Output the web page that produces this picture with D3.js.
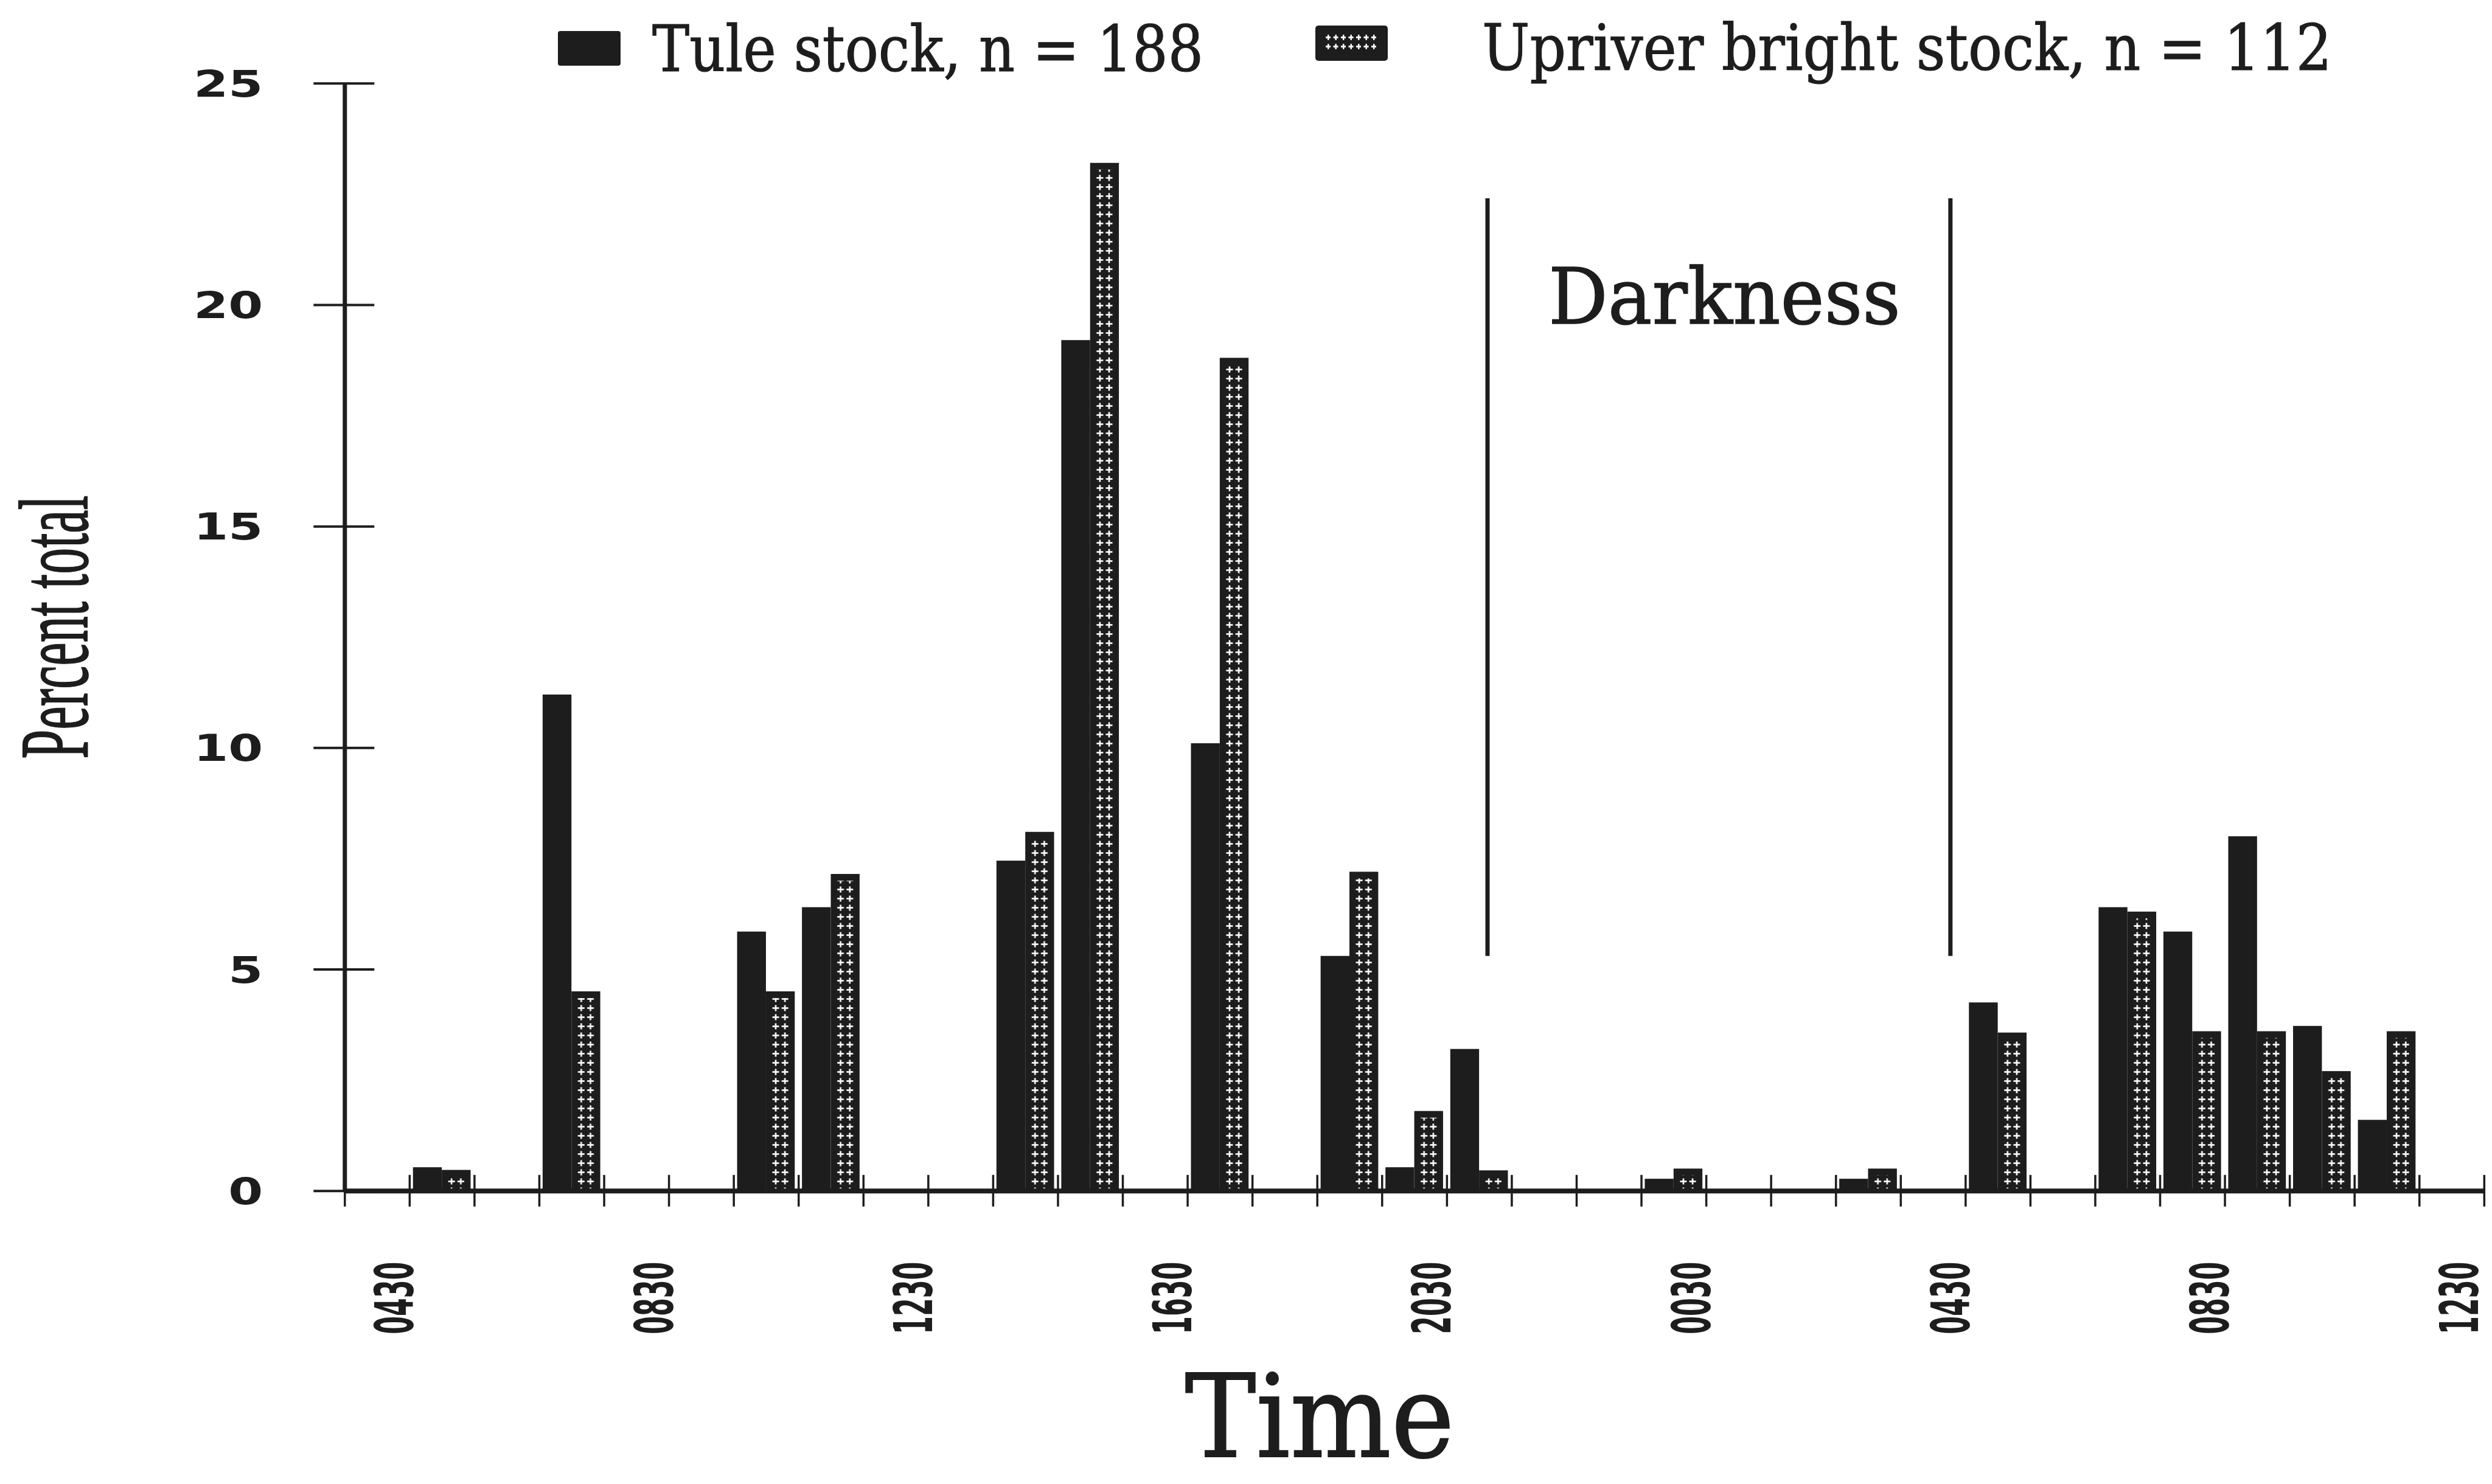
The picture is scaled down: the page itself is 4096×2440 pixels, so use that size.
<!DOCTYPE html>
<html>
<head>
<meta charset="utf-8">
<script src="https://cdn.jsdelivr.net/npm/d3@7"></script>
<style>
  html, body { margin: 0; padding: 0; background: #ffffff; }
  svg { display: block; }
</style>
</head>
<body>
<svg id="chart" width="4096" height="2440"></svg>
<script>
// Hour marks along the time axis: 0330 on day one through 1230 on day two
const tickTimes = ["0330","0430","0530","0630","0730","0830","0930","1030","1130","1230",
  "1330","1430","1530","1630","1730","1830","1930","2030","2130","2230","2330","0030",
  "0130","0230","0330","0430","0530","0630","0730","0830","0930","1030","1130","1230"];
// Tick positions that carry a printed time label
const labelledTicks = [1, 5, 9, 13, 17, 21, 25, 29, 33];

// Percent of total catch in each hourly bin (bin i runs from tickTimes[i] to tickTimes[i+1])
const tuleValues = [0, 0.53, 0, 11.2, 0, 0, 5.85, 6.4, 0, 0, 7.45, 19.2, 0, 10.1, 0, 5.3,
  0.53, 3.2, 0, 0, 0.27, 0, 0, 0.27, 0, 4.25, 0, 6.4, 5.85, 8.0, 3.72, 1.6, 0];
const brightValues = [0, 0.47, 0, 4.5, 0, 0, 4.5, 7.15, 0, 0, 8.1, 23.2, 0, 18.8, 0, 7.2,
  1.8, 0.46, 0, 0, 0.5, 0, 0, 0.5, 0, 3.57, 0, 6.3, 3.6, 3.6, 2.7, 3.6, 0];

const seriesKeys = ["tule", "bright"];
const seriesLabels = ["Tule stock, n = 188", "Upriver bright stock, n = 112"];
const yTickValues = [0, 5, 10, 15, 20, 25];

// Sunset / sunrise boundaries (hours after 0330) and the span of the marker lines (percent)
const darknessHours = [17.63, 24.77];
const darknessSpan = [5.3, 22.4];

const W = 4096, H = 2440;
const ink = "#1d1d1d";
const svg = d3.select("#chart");

const x = d3.scaleLinear().domain([0, tickTimes.length - 1]).range([566.3, 4082.8]);
const y = d3.scaleLinear().domain([0, 25]).range([1957.8, 136.7]);
const binWidth = x(1) - x(0);
const inner = d3.scaleBand().domain(seriesKeys).range([0, binWidth])
  .paddingInner(0).paddingOuter(0.125);
const bw = inner.bandwidth();

// Fill used for the upriver bright bars: dark ground with small white crosses
const sideInset = 8.5, topInset = 11;
const tileW = (bw - 2 * sideInset) / 2, tileH = 15;
const defs = svg.append("defs");
const pat = defs.append("pattern")
  .attr("id", "brightFill")
  .attr("patternUnits", "userSpaceOnUse")
  .attr("x", sideInset).attr("y", 0)
  .attr("width", tileW).attr("height", tileH);
pat.append("rect").attr("width", tileW).attr("height", tileH).attr("fill", ink);
pat.append("rect").attr("x", tileW * 0.14).attr("y", 6.2)
  .attr("width", tileW * 0.72).attr("height", 2.6).attr("fill", "#ffffff");
pat.append("rect").attr("x", tileW / 2 - 1.3).attr("y", 2.5)
  .attr("width", 2.6).attr("height", 10).attr("fill", "#ffffff");

// Bars
const bins = tuleValues.map((t, i) => ({ i, tule: t, bright: brightValues[i] }));
const barLayer = svg.append("g");

barLayer.selectAll("rect.tule")
  .data(bins.filter(d => d.tule > 0))
  .join("rect")
  .attr("class", "tule")
  .attr("x", d => x(d.i) + inner("tule"))
  .attr("y", d => y(d.tule))
  .attr("width", bw)
  .attr("height", d => y(0) - y(d.tule))
  .attr("fill", ink);

const brightBars = barLayer.selectAll("g.bright")
  .data(bins.filter(d => d.bright > 0))
  .join("g")
  .attr("class", "bright")
  .attr("transform", d => `translate(${x(d.i) + inner("bright")},0)`);
brightBars.append("rect")
  .attr("x", 0)
  .attr("y", d => y(d.bright))
  .attr("width", bw)
  .attr("height", d => y(0) - y(d.bright))
  .attr("fill", ink);
brightBars.append("rect")
  .attr("x", sideInset)
  .attr("y", d => y(d.bright) + topInset)
  .attr("width", bw - 2 * sideInset)
  .attr("height", d => Math.max(0, y(0) - y(d.bright) - topInset - 2))
  .attr("fill", "url(#brightFill)");

// X axis: a tick at every hour, labels every four hours
const labelSize = 88, labelDescent = labelSize * 0.24;
const xAxis = d3.axisBottom(x)
  .tickValues(d3.range(tickTimes.length))
  .tickSizeOuter(0)
  .tickFormat(i => labelledTicks.includes(i) ? tickTimes[i] : "");
const gx = svg.append("g").attr("transform", `translate(0,${y(0)})`).call(xAxis);
gx.select(".domain").attr("stroke", ink).attr("stroke-width", 8);
gx.selectAll(".tick line").attr("stroke", ink).attr("stroke-width", 3.5)
  .attr("y1", -26).attr("y2", 26);
gx.selectAll(".tick text")
  .attr("x", 0).attr("y", 0).attr("dy", null)
  .attr("transform", i => {
    // keep the rotated label inside the page at the right-hand end
    const shift = Math.min(6, W - 2 - labelDescent - x(i));
    return `translate(${shift},117) rotate(-90)`;
  })
  .attr("text-anchor", "end")
  .attr("fill", ink)
  .attr("font-family", "'DejaVu Sans', sans-serif")
  .attr("font-weight", "bold")
  .attr("font-size", labelSize)
  .attr("textLength", function () { return this.textContent ? 119 : null; })
  .attr("lengthAdjust", "spacingAndGlyphs");

// Y axis: ticks crossing the axis line, wide bold numerals
const yAxis = d3.axisLeft(y).tickValues(yTickValues).tickSizeOuter(0).tickFormat(d3.format("d"));
const gy = svg.append("g").attr("transform", `translate(${x(0)},0)`).call(yAxis);
gy.select(".domain").attr("stroke", ink).attr("stroke-width", 7);
gy.selectAll(".tick line").attr("stroke", ink).attr("stroke-width", 4)
  .attr("x1", -51).attr("x2", 49);
gy.selectAll(".tick text")
  .attr("x", -134).attr("dy", "0.36em")
  .attr("text-anchor", "end")
  .attr("fill", ink)
  .attr("font-family", "'DejaVu Sans', sans-serif")
  .attr("font-weight", "bold")
  .attr("font-size", 60)
  .attr("textLength", function () { return this.textContent.length * 57; })
  .attr("lengthAdjust", "spacingAndGlyphs");
svg.selectAll(".tick text").style("font-family", null);

// Darkness boundaries
svg.append("g").selectAll("line")
  .data(darknessHours)
  .join("line")
  .attr("x1", d => x(d)).attr("x2", d => x(d))
  .attr("y1", y(darknessSpan[1])).attr("y2", y(darknessSpan[0]))
  .attr("stroke", ink).attr("stroke-width", 7);

svg.append("text")
  .attr("x", 2545).attr("y", 532)
  .attr("font-family", "'DejaVu Serif', serif")
  .attr("font-size", 128)
  .attr("textLength", 579).attr("lengthAdjust", "spacingAndGlyphs")
  .attr("fill", ink)
  .attr("stroke", ink).attr("stroke-width", 1.5)
  .text("Darkness");

// Legend
const legendItems = [
  { key: "tule", label: seriesLabels[0], sx: 917, sy: 51, sw: 103, sh: 57, tx: 1072, ty: 117, tl: 906 },
  { key: "bright", label: seriesLabels[1], sx: 2162, sy: 42, sw: 119, sh: 58, tx: 2436, ty: 115, tl: 1397 }
];
const legend = svg.append("g");
legendItems.forEach(it => {
  if (it.key === "tule") {
    legend.append("rect").attr("x", it.sx).attr("y", it.sy)
      .attr("width", it.sw).attr("height", it.sh).attr("rx", 4).attr("fill", ink);
  } else {
    const g = legend.append("g").attr("transform", `translate(${it.sx},${it.sy})`);
    g.append("rect").attr("width", it.sw).attr("height", it.sh).attr("rx", 5).attr("fill", ink);
    [18, 33].forEach(rowY => {
      d3.range(7).forEach(k => {
        g.append("rect").attr("x", 17 + k * 12.5).attr("y", rowY)
          .attr("width", 8).attr("height", 3).attr("fill", "#ffffff");
        g.append("rect").attr("x", 20 + k * 12.5).attr("y", rowY - 3)
          .attr("width", 2.4).attr("height", 9).attr("fill", "#ffffff");
      });
    });
  }
  legend.append("text")
    .attr("x", it.tx).attr("y", it.ty)
    .attr("font-family", "'DejaVu Serif', serif")
    .attr("font-size", 105)
    .attr("textLength", it.tl).attr("lengthAdjust", "spacingAndGlyphs")
    .attr("fill", ink)
    .attr("stroke", ink).attr("stroke-width", 1.2)
    .text(it.label);
});

// Axis titles
svg.append("text")
  .attr("transform", "translate(143,1031) rotate(-90)")
  .attr("text-anchor", "middle")
  .attr("font-family", "'Liberation Serif', serif")
  .attr("font-size", 160)
  .attr("textLength", 433).attr("lengthAdjust", "spacingAndGlyphs")
  .attr("fill", ink)
  .attr("stroke", ink).attr("stroke-width", 2)
  .text("Percent total");

svg.append("text")
  .attr("x", 2169).attr("y", 2395)
  .attr("text-anchor", "middle")
  .attr("font-family", "'DejaVu Serif', serif")
  .attr("font-size", 189)
  .attr("textLength", 443).attr("lengthAdjust", "spacingAndGlyphs")
  .attr("fill", ink)
  .attr("stroke", ink).attr("stroke-width", 2)
  .text("Time");
</script>
</body>
</html>
